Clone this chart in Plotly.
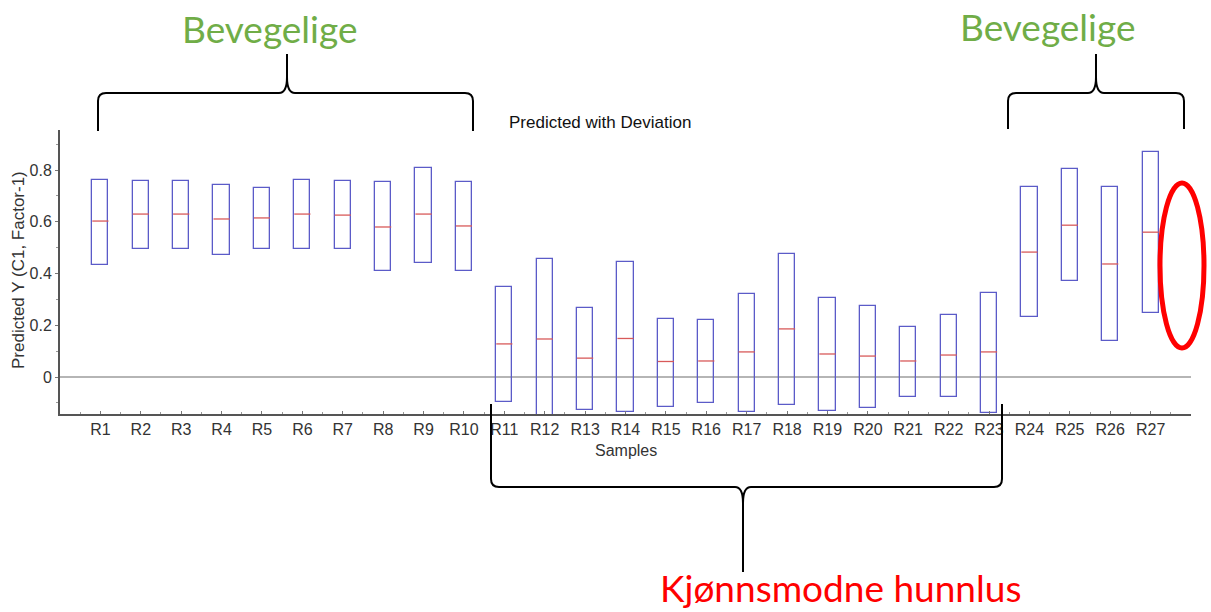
import plotly.graph_objects as go

samples = [f"R{i}" for i in range(1, 28)]
predicted = [0.603, 0.630, 0.630, 0.611, 0.615, 0.630, 0.626, 0.580, 0.630, 0.584,
             0.128, 0.147, 0.073, 0.149, 0.060, 0.062, 0.097, 0.186, 0.089, 0.081,
             0.062, 0.085, 0.097, 0.483, 0.587, 0.437, 0.560]
upper = [0.761, 0.757, 0.757, 0.742, 0.730, 0.761, 0.757, 0.754, 0.810, 0.754,
         0.348, 0.456, 0.267, 0.444, 0.224, 0.220, 0.321, 0.475, 0.305, 0.274,
         0.193, 0.240, 0.325, 0.734, 0.804, 0.734, 0.870]
lower = [0.433, 0.495, 0.495, 0.471, 0.495, 0.495, 0.495, 0.410, 0.440, 0.410,
         -0.097, -0.160, -0.127, -0.135, -0.116, -0.100, -0.135, -0.108, -0.131, -0.120,
         -0.077, -0.077, -0.139, 0.232, 0.371, 0.139, 0.248]

W, H = 1211, 612
L, R, T, B = 60, 20, 130, 198
PW, PH = W - L - R, H - T - B

xs = list(range(len(samples)))

fig = go.Figure()
fig.add_trace(go.Bar(
    x=xs, y=[u - l for u, l in zip(upper, lower)], base=lower, width=0.4,
    marker=dict(color="rgba(0,0,0,0)", line=dict(color="#5b5bc8", width=1.3)),
    hoverinfo="skip", showlegend=False))

mx, my = [], []
for i, p in zip(xs, predicted):
    mx += [i - 0.2, i + 0.2, None]
    my += [p, p, None]
fig.add_trace(go.Scatter(x=mx, y=my, mode="lines",
                         line=dict(color="#d85a5a", width=1.3),
                         hoverinfo="skip", showlegend=False))


def px(x):
    return (x - L) / PW


def py(y):
    return (H - B - y) / PH


def P(x, y):
    return f"{px(x):.5f},{py(y):.5f}"


def bracket(x0, x1, xt, yend, ybar, ytip, r=8):
    s = 1 if ytip < ybar else -1  # tip direction: up (s=1) or down
    d = (f"M {P(x0, yend)} L {P(x0, ybar + s * r)} Q {P(x0, ybar)} {P(x0 + r, ybar)} "
         f"L {P(xt - r, ybar)} Q {P(xt, ybar)} {P(xt, ybar - s * 2 * r)} L {P(xt, ytip)} "
         f"M {P(xt, ybar - s * 2 * r)} Q {P(xt, ybar)} {P(xt + r, ybar)} "
         f"L {P(x1 - r, ybar)} Q {P(x1, ybar)} {P(x1, ybar + s * r)} L {P(x1, yend)}")
    return dict(type="path", xref="paper", yref="paper", path=d,
                line=dict(color="black", width=2), layer="above")


shapes = [
    bracket(98, 473, 287, 131, 93, 54),
    bracket(1008, 1184, 1096, 129, 93, 54),
    bracket(491, 1002, 743, 404, 487, 572),
    dict(type="circle", xref="paper", yref="paper",
         x0=px(1160), x1=px(1204), y0=py(348), y1=py(183),
         line=dict(color="#ff0000", width=5), layer="above"),
]

ann_font = dict(family="Arial, Liberation Sans, sans-serif", size=17, color="#111")
big = dict(family="Lato, sans-serif", size=37)
annotations = [
    dict(text="Predicted with Deviation", x=px(600), y=py(123), xref="paper", yref="paper",
         showarrow=False, font=ann_font, xanchor="center", yanchor="middle"),
    dict(text="Bevegelige", x=px(269), y=py(29), xref="paper", yref="paper",
         showarrow=False, font=dict(**big, color="#70ad47"),
         xanchor="center", yanchor="middle"),
    dict(text="Bevegelige", x=px(1047), y=py(26), xref="paper", yref="paper",
         showarrow=False, font=dict(**big, color="#70ad47"),
         xanchor="center", yanchor="middle"),
    dict(text="Kjønnsmodne hunnlus", x=px(840), y=py(611), xref="paper", yref="paper",
         showarrow=False, font=dict(**big, color="#ff0000"),
         xanchor="center", yanchor="bottom", borderpad=0),
    dict(text="Samples", x=px(626), y=py(450), xref="paper", yref="paper",
         showarrow=False, font=dict(size=16, color="#333"),
         xanchor="center", yanchor="middle"),
    dict(text="Predicted Y (C1, Factor-1)", x=px(18), y=py(270), xref="paper", yref="paper",
         showarrow=False, font=dict(size=17, color="#333"), textangle=-90,
         xanchor="center", yanchor="middle"),
]

fig.update_layout(
    width=W, height=H, margin=dict(l=L, r=R, t=T, b=B),
    plot_bgcolor="white", paper_bgcolor="white",
    shapes=shapes, annotations=annotations, bargap=0,
    font=dict(family="Arial, Liberation Sans, sans-serif", size=16, color="#333"),
)
fig.update_xaxes(
    range=[-1, 27], tickmode="array", tickvals=xs, ticktext=samples,
    showline=True, linecolor="#555", linewidth=2, showgrid=False, zeroline=False,
    ticks="inside", ticklen=3, tickcolor="#777",
    minor=dict(dtick=0.5, tick0=-0.5, ticks="inside", ticklen=2, tickcolor="#999"),
)
fig.update_yaxes(
    range=[-0.143, 0.955], tickvals=[0, 0.2, 0.4, 0.6, 0.8],
    ticktext=["0", "0.2", "0.4", "0.6", "0.8"],
    showline=True, linecolor="#555", linewidth=2, showgrid=False,
    zeroline=True, zerolinecolor="#b5b5b5", zerolinewidth=1.5,
    ticks="outside", ticklen=3, tickcolor="#777",
    minor=dict(dtick=0.1, ticks="outside", ticklen=2, tickcolor="#999"),
)

fig.write_html("out.html")
